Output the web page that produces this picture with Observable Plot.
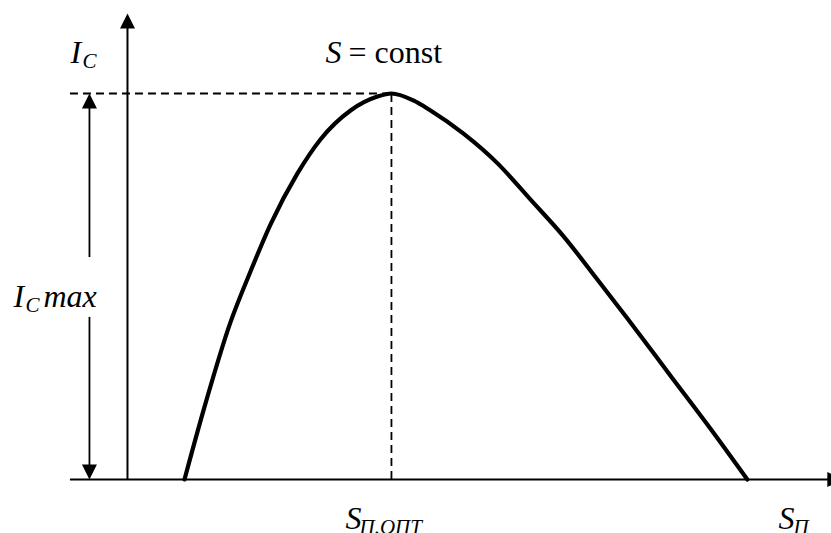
<!DOCTYPE html>
<html>
<head>
<meta charset="utf-8">
<script src="https://cdn.jsdelivr.net/npm/d3@7"></script>
<script src="https://cdn.jsdelivr.net/npm/@observablehq/plot@0.6"></script>
<style>
  html, body { margin: 0; padding: 0; background: #fff; }
  #chart svg { display: block; }
</style>
</head>
<body>
<div id="chart"></div>
<script>
// Collector current I_C versus the relative value S_П / S_П.ОПТ at S = const.
// Current is given relative to I_C max, so the peak sits at (1, 1).
const sRel = [0.216, 0.288, 0.390, 0.466, 0.542, 0.644, 0.731, 0.845, 0.947, 1.000,
              1.083, 1.148, 1.273, 1.402, 1.527, 1.652, 1.780, 1.894, 2.057, 2.208, 2.348];
const icRel = [0.000, 0.179, 0.407, 0.539, 0.661, 0.793, 0.881, 0.956, 0.992, 1.000,
               0.982, 0.956, 0.896, 0.819, 0.725, 0.630, 0.518, 0.417, 0.269, 0.132, 0.000];

// Optimum point of the curve and the gap left in the I_C max dimension line
const sOpt = 1;
const icMax = 1;
const dimGap = [0.42, 0.575];

// Axis extents
const xAxisFrom = -0.216, xAxisTo = 2.708;
const yAxisTo = 1.207;

// Label texts
const yName = "I", ySub = "C";
const xName = "S", xSub = "П";
const optSub = "П.ОПТ";
const constLabel = "= const";
const maxWord = "max";

const curve = sRel.map((s, i) => ({s, ic: icRel[i]}));

// Filled arrowhead symbols, tip at the anchor point
const headUp = {draw(c) { c.moveTo(0, 0); c.lineTo(7.5, 15); c.lineTo(-7.5, 15); c.closePath(); }};
const headDown = {draw(c) { c.moveTo(0, 0); c.lineTo(7.5, -15); c.lineTo(-7.5, -15); c.closePath(); }};
const headRight = {draw(c) { c.moveTo(0, 0); c.lineTo(-15, -7.5); c.lineTo(-15, 7.5); c.closePath(); }};

const serif = "'Liberation Serif', 'Times New Roman', serif";
const big = 32, small = 21;

const txt = (x, y, t, opts = {}) => Plot.text([t], {
  x: () => x, y: () => y, text: d => d,
  fontFamily: serif, fontSize: big, fontStyle: "italic",
  textAnchor: "start", lineAnchor: "bottom", fill: "black", ...opts
});

const chart = Plot.plot({
  width: 831,
  height: 533,
  margin: 0,
  x: {domain: [-0.481, 2.667], axis: null},
  y: {domain: [-0.140, 1.241], axis: null},
  style: {background: "#fff"},
  marks: [
    // dashed guides to the maximum
    Plot.ruleY([icMax], {x1: xAxisFrom, x2: sOpt, stroke: "black", strokeWidth: 1.8, strokeDasharray: "8,5"}),
    Plot.ruleX([sOpt], {y1: 0, y2: icMax, stroke: "black", strokeWidth: 1.8, strokeDasharray: "8,5"}),
    // axes
    Plot.ruleY([0], {x1: xAxisFrom, x2: xAxisTo - 0.03, stroke: "black", strokeWidth: 2}),
    Plot.ruleX([0], {y1: 0, y2: yAxisTo - 0.02, stroke: "black", strokeWidth: 2}),
    Plot.dot([0], {x: () => 0, y: () => yAxisTo, symbol: headUp, fill: "black", stroke: "none"}),
    Plot.dot([0], {x: () => xAxisTo, y: () => 0, symbol: headRight, fill: "black", stroke: "none"}),
    // I_C max dimension line
    Plot.ruleX([-0.144], {y1: dimGap[1], y2: icMax - 0.02, stroke: "black", strokeWidth: 1.8}),
    Plot.ruleX([-0.144], {y1: 0.02, y2: dimGap[0], stroke: "black", strokeWidth: 1.8}),
    Plot.dot([0], {x: () => -0.144, y: () => icMax, symbol: headUp, fill: "black", stroke: "none"}),
    Plot.dot([0], {x: () => -0.144, y: () => 0, symbol: headDown, fill: "black", stroke: "none"}),
    // the characteristic
    Plot.line(curve, {x: "s", y: "ic", curve: "monotone-x", stroke: "black", strokeWidth: 4.2, strokeLinejoin: "round"}),
    // labels
    txt(-0.216, 1.080, yName),
    txt(-0.216, 1.080, ySub, {fontSize: small, dx: 12, dy: 5}),
    txt(0.750, 1.080, xName),
    txt(0.750, 1.080, constLabel, {fontStyle: "normal", dx: 23}),
    txt(-0.432, 0.446, yName),
    txt(-0.432, 0.446, ySub, {fontSize: small, dx: 12, dy: 5}),
    txt(-0.432, 0.446, maxWord, {dx: 30}),
    txt(0.826, -0.128, xName),
    txt(0.826, -0.128, optSub, {fontSize: small, dx: 14, dy: 5}),
    txt(2.466, -0.128, xName),
    txt(2.466, -0.128, xSub, {fontSize: small, dx: 15, dy: 5})
  ]
});

document.getElementById("chart").appendChild(chart);
</script>
</body>
</html>
